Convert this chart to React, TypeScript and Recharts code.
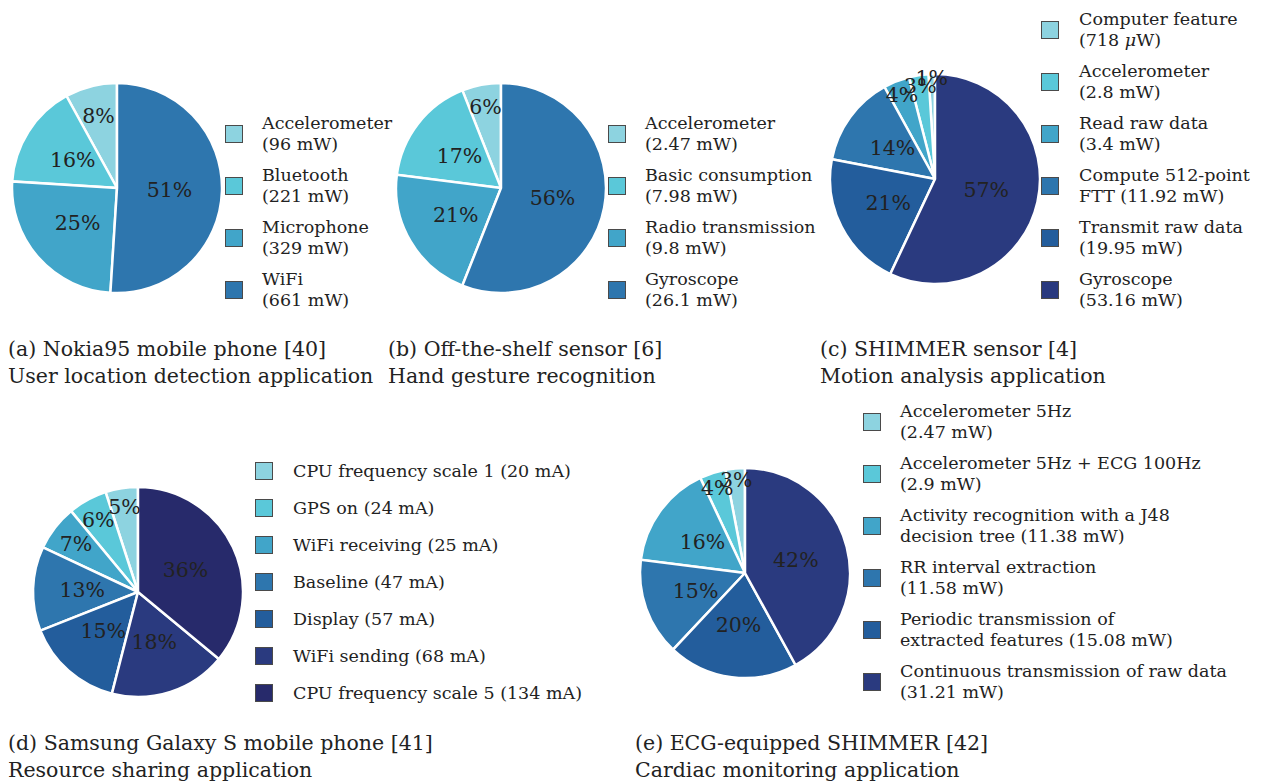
import React from "react";
import { PieChart, Pie, Cell } from "recharts";

// palette, light -> dark (same order as the legends)
const blues = ["#8dd3e0", "#5ac8d9", "#41a5c9", "#2e76ae", "#235d9c", "#2a3a7f", "#272a6b"];

// (a) Nokia95 mobile phone
const aNames = ["Accelerometer", "Bluetooth", "Microphone", "WiFi"];
const aPower = ["(96 mW)", "(221 mW)", "(329 mW)", "(661 mW)"];
const aShare = [8, 16, 25, 51];

// (b) Off-the-shelf sensor
const bNames = ["Accelerometer", "Basic consumption", "Radio transmission", "Gyroscope"];
const bPower = ["(2.47 mW)", "(7.98 mW)", "(9.8 mW)", "(26.1 mW)"];
const bShare = [6, 17, 21, 56];

// (c) SHIMMER sensor
const cNames = ["Computer feature", "Accelerometer", "Read raw data", "Compute 512-point", "Transmit raw data", "Gyroscope"];
const cPower = ["(718 μW)", "(2.8 mW)", "(3.4 mW)", "FTT (11.92 mW)", "(19.95 mW)", "(53.16 mW)"];
const cShare = [1, 3, 4, 14, 21, 57];

// (d) Samsung Galaxy S
const dNames = [
  "CPU frequency scale 1 (20 mA)",
  "GPS on (24 mA)",
  "WiFi receiving (25 mA)",
  "Baseline (47 mA)",
  "Display (57 mA)",
  "WiFi sending (68 mA)",
  "CPU frequency scale 5 (134 mA)",
];
const dShare = [5, 6, 7, 13, 15, 18, 36];

// (e) ECG-equipped SHIMMER
const eNames = [
  "Accelerometer 5Hz",
  "Accelerometer 5Hz + ECG 100Hz",
  "Activity recognition with a J48",
  "RR interval extraction",
  "Periodic transmission of",
  "Continuous transmission of raw data",
];
const ePower = ["(2.47 mW)", "(2.9 mW)", "decision tree (11.38 mW)", "(11.58 mW)", "extracted features (15.08 mW)", "(31.21 mW)"];
const eShare = [3, 4, 16, 15, 20, 42];

const FONT = "'DejaVu Serif', serif";
const INK = "#222";
const RAD = Math.PI / 180;
const BOX = 270; // svg box around each pie, big enough for the outer labels

function pctLabel(props: any) {
  const { cx, cy, midAngle, outerRadius, percent, value } = props;
  const span = percent * 360;
  // small slices get their label pushed out towards the rim
  const d = outerRadius * Math.max(0.5, 1 - span / 100);
  const x = cx + d * Math.cos(-midAngle * RAD);
  const y = cy + d * Math.sin(-midAngle * RAD);
  return (
    <text x={x} y={y} textAnchor="middle" dominantBaseline="central" fill={INK} fontFamily={FONT} fontSize={20.5}>
      {value}%
    </text>
  );
}

function Donut({ share, x, y }: { share: number[]; x: number; y: number }) {
  const data = share.map((v, i) => ({ name: String(i), value: v }));
  const h = BOX / 2;
  return (
    <div style={{ position: "absolute", left: x - h, top: y - h }}>
      <PieChart width={BOX} height={BOX} margin={{ top: 0, right: 0, bottom: 0, left: 0 }}>
        <Pie
          data={data}
          dataKey="value"
          cx={h}
          cy={h}
          outerRadius={105}
          startAngle={90}
          endAngle={450}
          stroke="#fff"
          strokeWidth={2.5}
          label={pctLabel}
          labelLine={false}
          isAnimationActive={false}
        >
          {data.map((_, i) => (
            <Cell key={i} fill={blues[i]} />
          ))}
        </Pie>
      </PieChart>
    </div>
  );
}

function withMu(s: string) {
  if (!s.includes("μ")) return s;
  const [a, b] = s.split("μ");
  return (
    <>
      {a}
      <i>μ</i>
      {b}
    </>
  );
}

function Key({ lines, sqX, txtX, y0, step }: { lines: string[][]; sqX: number; txtX: number; y0: number; step: number }) {
  return (
    <>
      {lines.map((l, i) => {
        const cy = y0 + i * step;
        const h = l.length * 21;
        return (
          <React.Fragment key={i}>
            <div
              style={{
                position: "absolute",
                left: sqX,
                top: cy - 9,
                width: 16,
                height: 16,
                background: blues[i],
                border: "1.5px solid #4a4a4a",
              }}
            />
            <div
              style={{
                position: "absolute",
                left: txtX,
                top: cy - h / 2,
                fontSize: 17.5,
                lineHeight: "21px",
                color: INK,
                whiteSpace: "nowrap",
              }}
            >
              {l.map((t, j) => (
                <div key={j}>{withMu(t)}</div>
              ))}
            </div>
          </React.Fragment>
        );
      })}
    </>
  );
}

function Caption({ x, y, lines }: { x: number; y: number; lines: string[] }) {
  return (
    <div style={{ position: "absolute", left: x, top: y, fontSize: 20.5, lineHeight: "27px", color: INK, whiteSpace: "nowrap" }}>
      {lines.map((t, i) => (
        <div key={i}>{t}</div>
      ))}
    </div>
  );
}

export default function App() {
  const zip = (a: string[], b: string[]) => a.map((s, i) => [s, b[i]]);
  return (
    <div style={{ position: "absolute", left: 0, top: 0, width: 1266, height: 783, background: "#fff", fontFamily: FONT, overflow: "hidden" }}>
      <Donut share={aShare} x={117} y={187.5} />
      <Key lines={zip(aNames, aPower)} sqX={225} txtX={262} y0={134} step={52} />
      <Caption x={8} y={335.5} lines={["(a) Nokia95 mobile phone [40]", "User location detection application"]} />

      <Donut share={bShare} x={500.5} y={187.5} />
      <Key lines={zip(bNames, bPower)} sqX={608} txtX={645} y0={134} step={52} />
      <Caption x={388} y={335.5} lines={["(b) Off-the-shelf sensor [6]", "Hand gesture recognition"]} />

      <Donut share={cShare} x={934.5} y={179} />
      <Key lines={zip(cNames, cPower)} sqX={1041} txtX={1079} y0={30} step={52} />
      <Caption x={820} y={335.5} lines={["(c) SHIMMER sensor [4]", "Motion analysis application"]} />

      <Donut share={dShare} x={137.5} y={592} />
      <Key lines={dNames.map((s) => [s])} sqX={255} txtX={293} y0={471} step={37} />
      <Caption x={8} y={729.5} lines={["(d) Samsung Galaxy S mobile phone [41]", "Resource sharing application"]} />

      <Donut share={eShare} x={744.5} y={572.5} />
      <Key lines={zip(eNames, ePower)} sqX={863} txtX={900} y0={422} step={52} />
      <Caption x={635} y={729.5} lines={["(e) ECG-equipped SHIMMER [42]", "Cardiac monitoring application"]} />
    </div>
  );
}
